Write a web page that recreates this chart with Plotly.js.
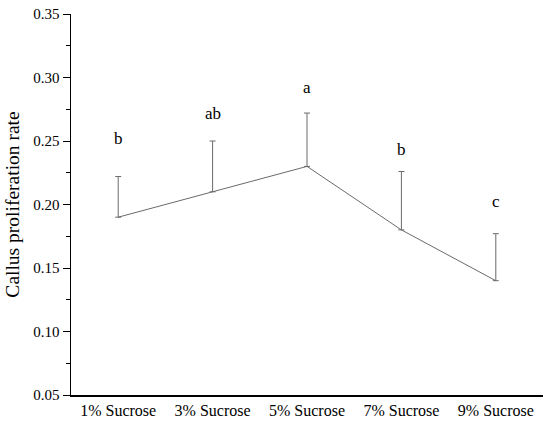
<!DOCTYPE html>
<html>
<head>
<meta charset="utf-8">
<script src="https://cdn.plot.ly/plotly-3.0.1.min.js"></script>
<style>
  html, body { margin: 0; padding: 0; background: #fff; }
  #chart { width: 550px; height: 425px; }
</style>
</head>
<body>
<div id="chart"></div>
<script>
// -----------------------------
// Data
// -----------------------------
const treatments = ["1% Sucrose", "3% Sucrose", "5% Sucrose", "7% Sucrose", "9% Sucrose"];
const rates = [0.19, 0.21, 0.23, 0.18, 0.14];
const errors = [0.032, 0.040, 0.042, 0.046, 0.037];
const letters = ["b", "ab", "a", "b", "c"];
const letterHeights = [0.252, 0.272, 0.292, 0.243, 0.202];

const serif = "Liberation Serif";
const gray = "#6a6a6a";

const trace = {
  type: "scatter",
  mode: "lines",
  x: treatments,
  y: rates,
  line: { color: gray, width: 1 },
  error_y: {
    type: "data",
    symmetric: false,
    array: errors,
    arrayminus: errors.map(() => 0),
    color: gray,
    thickness: 1,
    width: 3
  },
  showlegend: false,
  hoverinfo: "skip"
};

// significance letters
const annotations = treatments.map((t, i) => ({
  x: t,
  y: letterHeights[i],
  xref: "x",
  yref: "y",
  text: letters[i],
  showarrow: false,
  yanchor: "middle",
  font: { family: serif, size: 17, color: "#000" }
}));

const layout = {
  width: 550,
  height: 425,
  paper_bgcolor: "#fff",
  plot_bgcolor: "#fff",
  margin: { l: 71, r: 7, t: 14, b: 30 },
  font: { family: serif, color: "#000" },
  xaxis: {
    type: "category",
    range: [-0.5, 4.5],
    showline: true,
    linecolor: "#000",
    linewidth: 1.5,
    showgrid: false,
    zeroline: false,
    ticks: "",
    tickfont: { family: serif, size: 16, color: "#000" }
  },
  yaxis: {
    range: [0.05, 0.35],
    dtick: 0.05,
    tickformat: ".2f",
    showline: true,
    linecolor: "#000",
    linewidth: 1.5,
    showgrid: false,
    zeroline: false,
    ticks: "outside",
    ticklen: 7,
    tickcolor: "#000",
    tickwidth: 1,
    minor: { dtick: 0.025, ticks: "outside", ticklen: 4, tickcolor: "#000", tickwidth: 1 },
    tickfont: { family: serif, size: 15, color: "#000" },
    title: { text: "Callus proliferation rate", font: { family: serif, size: 19.5, color: "#000" }, standoff: 8 }
  },
  annotations: annotations
};

Plotly.newPlot("chart", [trace], layout, { displayModeBar: false, staticPlot: true });
</script>
</body>
</html>
